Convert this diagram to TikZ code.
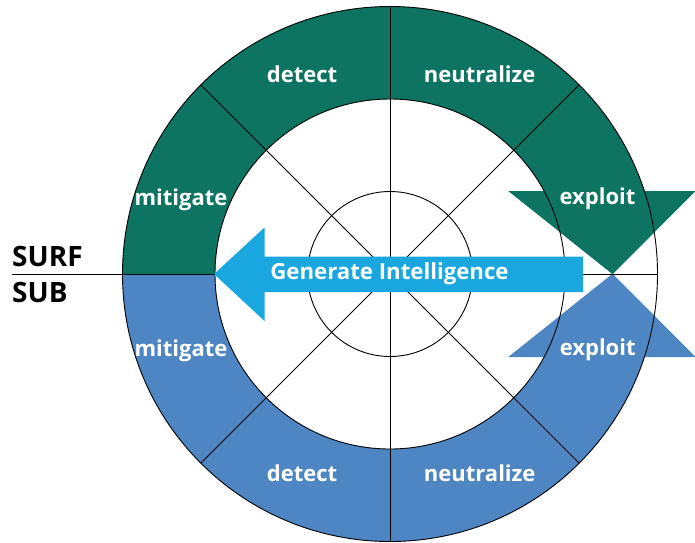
\documentclass[tikz,border=0pt]{standalone}
\usepackage{fontspec}
\setmainfont{Open Sans}
\usetikzlibrary{calc}
\definecolor{surfgreen}{HTML}{0D7462}
\definecolor{subblue}{HTML}{4E86C3}
\definecolor{intelblue}{HTML}{1AA7E0}
\begin{document}
\begin{tikzpicture}[x=1pt,y=-1pt,
  ringline/.style={black,line width=0.9pt},
  ringlabel/.style={text=white,font=\bfseries\fontsize{22}{22}\selectfont,anchor=base,inner sep=0pt},
  sidelabel/.style={text=black,font=\bfseries\fontsize{28}{28}\selectfont,anchor=base west,inner sep=0pt}]
\useasboundingbox (0,0) rectangle (695,542);
\def\Ro{267.5}
\def\Ri{175}
\def\Rc{82.5}
\coordinate (c) at (390,274);

% upper (surface) ring, with the wedge under the exploit marker left white
\begin{scope}
  \clip (-5,274) -- (-5,-5) -- (700,-5) -- (700,186.5) -- (612.5,274)
        -- (488.8,175.2) -- (390,274) -- cycle;
  \fill[surfgreen,even odd rule] (c) circle[radius=\Ro] (c) circle[radius=\Ri];
\end{scope}
\fill[surfgreen] (508.2,191) -- (695.5,191) -- (612.5,274) -- cycle;

% lower (subsurface) ring
\begin{scope}
  \clip (-5,274) -- (-5,547) -- (700,547) -- (700,361.5) -- (612.5,274)
        -- (488.8,372.8) -- (390,274) -- cycle;
  \fill[subblue,even odd rule] (c) circle[radius=\Ro] (c) circle[radius=\Ri];
\end{scope}
\fill[subblue] (508.2,357) -- (695.5,357) -- (612.5,274) -- cycle;

% circles and spokes
\draw[ringline] (c) circle[radius=\Ro];
\draw[ringline] (c) circle[radius=\Ri];
\draw[ringline] (c) circle[radius=\Rc];
\coordinate (top) at (390,6.5);
\coordinate (bot) at (390,541.5);
\draw[ringline] (top) -- (bot);
\draw[ringline] ($(c)+(45:\Ro)$) -- ($(c)+(225:\Ro)$);
\draw[ringline] ($(c)+(135:\Ro)$) -- ($(c)+(315:\Ro)$);
\coordinate (divL) at (12,274);
\coordinate (divR) at (657.5,274);
\draw[ringline] (divL) -- (divR);

% central arrow
\fill[intelblue] (214,274) -- (264.5,227.5) -- (264.5,256.5) -- (583,256.5)
  -- (583,292) -- (264.5,292) -- (264.5,321) -- cycle;
\node[text=white,font=\bfseries\fontsize{22.2}{22.2}\selectfont,anchor=base,inner sep=0pt]
  (gen) at (389.5,279.5) {Generate Intelligence};

% sector labels
\node[ringlabel] (detU) at (302,82.7) {detect};
\node[ringlabel] (neuU) at (479.7,82.7) {neutralize};
\node[ringlabel] (mitU) at (181,205) {mitigate};
\node[ringlabel] (expU) at (597.5,204.3) {exploit};
\node[ringlabel] (mitL) at (181,356) {mitigate};
\node[ringlabel] (expL) at (597.7,355) {exploit};
\node[ringlabel] (detL) at (302,481.7) {detect};
\node[ringlabel] (neuL) at (479.7,481.7) {neutralize};

\node[sidelabel] (surf) at (12,266.7) {SURF};
\node[sidelabel] (sub) at (12,302.7) {SUB};
\end{tikzpicture}
\end{document}
